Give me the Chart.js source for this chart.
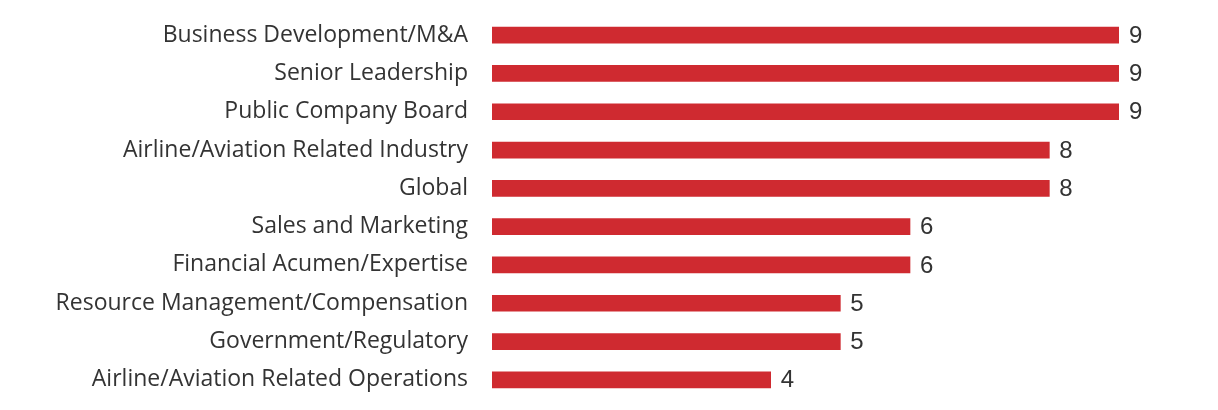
<!DOCTYPE html>
<html>
<head>
<meta charset="utf-8">
<script src="https://cdn.jsdelivr.net/npm/chart.js@4"></script>
<style>
  html, body { margin: 0; padding: 0; background: #fff; }
  #wrap { width: 1218px; height: 410px; position: relative; }
</style>
</head>
<body>
<div id="wrap"><canvas id="c"></canvas></div>
<script>
const categories = [
  "Business Development/M&A",
  "Senior Leadership",
  "Public Company Board",
  "Airline/Aviation Related Industry",
  "Global",
  "Sales and Marketing",
  "Financial Acumen/Expertise",
  "Resource Management/Compensation",
  "Government/Regulatory",
  "Airline/Aviation Related Operations"
];
const values = [9, 9, 9, 8, 8, 6, 6, 5, 5, 4];

const valueLabels = {
  id: 'valueLabels',
  afterDatasetsDraw(chart) {
    const ctx = chart.ctx;
    const meta = chart.getDatasetMeta(0);
    ctx.save();
    ctx.font = '24px Arimo, "Liberation Sans", Arial, sans-serif';
    ctx.fillStyle = '#333333';
    ctx.textAlign = 'left';
    ctx.textBaseline = 'middle';
    meta.data.forEach((bar, i) => {
      ctx.fillText(String(values[i]), bar.x + 10, bar.y + 1);
    });
    ctx.restore();
  }
};

new Chart(document.getElementById('c'), {
  type: 'bar',
  data: {
    labels: categories,
    datasets: [{
      data: values,
      backgroundColor: '#CF2A30',
      borderWidth: 0,
      barThickness: 16
    }]
  },
  options: {
    indexAxis: 'y',
    responsive: true,
    maintainAspectRatio: false,
    animation: false,
    layout: { padding: { top: 16, bottom: 11, left: 0, right: 99 } },
    plugins: { legend: { display: false }, tooltip: { enabled: false } },
    scales: {
      x: { display: false, min: 0, max: 9 },
      y: {
        grid: { display: false },
        border: { display: false },
        ticks: {
          color: '#333333',
          padding: 16,
          font: { family: '"Open Sans", sans-serif', size: 23 }
        },
        afterFit(scale) {
          scale.width = 492;
          scale.paddingTop = 0;
          scale.paddingBottom = 0;
        }
      }
    }
  },
  plugins: [valueLabels]
});
</script>
</body>
</html>
